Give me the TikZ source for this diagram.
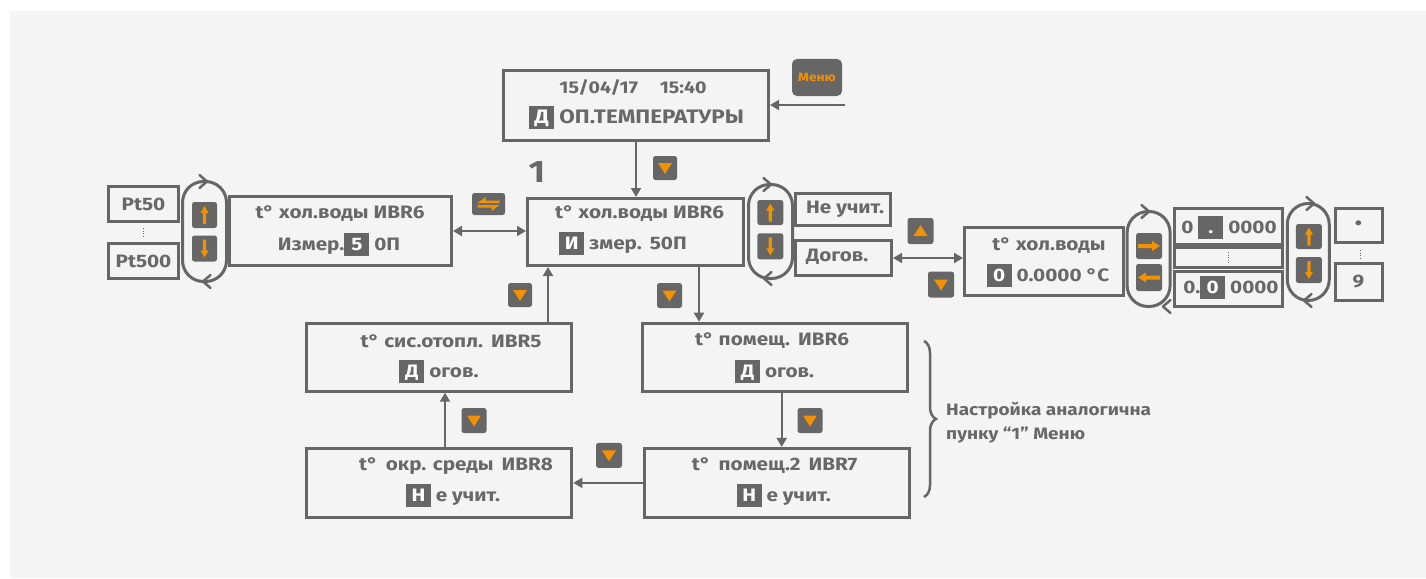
\documentclass[tikz,border=0pt]{standalone}
\usepackage{fontspec}
\setmainfont{Fira Sans}[FakeStretch=1.15]
\usetikzlibrary{arrows.meta,decorations.pathreplacing,calc}
\definecolor{gc}{HTML}{666666}
\definecolor{tc}{HTML}{686868}
\definecolor{og}{HTML}{F39200}
\definecolor{bgc}{HTML}{F4F4F4}
\newcommand\kb[1]{{\setlength\fboxsep{0pt}\colorbox{gc}{\makebox[25pt]{\rule[-5pt]{0pt}{23pt}\textcolor{white}{#1}}}}}
\newcommand\chevR[1]{\draw[chev] ($(#1)+(-3.5,-6.5)$) -- ++(7.5,6.5) -- ++(-7.5,6.5);}
\newcommand\chevL[1]{\draw[chev] ($(#1)+(3.5,-6.5)$) -- ++(-7.5,6.5) -- ++(7.5,6.5);}
\newcommand\tridown[1]{\fill[og] ($(#1)+(-7,-5)$) -- ++(14,0) -- ++(-7,11) -- cycle;}
\newcommand\triup[1]{\fill[og] ($(#1)+(-7,5)$) -- ++(14,0) -- ++(-7,-11) -- cycle;}
\newcommand\arrup[1]{\fill[og] ($(#1)+(-1.6,9)$) -- ++(3.2,0) -- ++(0,-11) -- ++(2.4,0) -- ++(-4,-7) -- ++(-4,7) -- ++(2.4,0) -- cycle;}
\newcommand\arrdown[1]{\fill[og] ($(#1)+(-1.6,-9)$) -- ++(3.2,0) -- ++(0,11) -- ++(2.4,0) -- ++(-4,7) -- ++(-4,-7) -- ++(2.4,0) -- cycle;}
\newcommand\arrright[1]{\fill[og] ($(#1)+(-11,-2)$) -- ++(14,0) -- ++(0,-3) -- ++(8,5) -- ++(-8,5) -- ++(0,-3) -- ++(-14,0) -- cycle;}
\newcommand\arrleft[1]{\fill[og] ($(#1)+(11,-2)$) -- ++(-14,0) -- ++(0,-3) -- ++(-8,5) -- ++(8,5) -- ++(0,-3) -- ++(14,0) -- cycle;}
\tikzset{
  lcd/.style={draw=gc, line width=3pt, fill=bgc, inner sep=0pt},
  capsule/.style={draw=gc, line width=3pt, inner sep=0pt, rounded corners=21pt},
  btn/.style={fill=gc, rounded corners=2.5pt, inner sep=0pt, minimum width=25pt, minimum height=25pt},
  txt/.style={text=tc, font=\bfseries\fontsize{18}{21}\selectfont, inner sep=0pt},
  stxt/.style={text=tc, font=\bfseries\fontsize{16.5}{24}\selectfont, inner sep=0pt},
  conn/.style={draw=gc, line width=2pt, -{Triangle[length=9pt,width=10pt]}},
  dconn/.style={draw=gc, line width=2pt, {Triangle[length=9pt,width=10pt]}-{Triangle[length=9pt,width=10pt]}},
  chev/.style={draw=gc, line width=2.5pt, line cap=round, line join=round},
  dots/.style={draw=gc, line width=1pt, dash pattern=on 1pt off 1.6pt},
}
\begin{document}
\begin{tikzpicture}[x=1pt,y=-1pt]
\fill[white] (0,0) rectangle (1426,578);
\fill[bgc] (10,11) rectangle (1426,578);
\useasboundingbox (0,0) rectangle (1426,578);

% ---------- boxes ----------
\node[lcd, minimum width=265pt, minimum height=70pt] (top) at (636,105.5) {};
\node[fill=gc, rounded corners=5pt, minimum width=50pt, minimum height=37pt, inner sep=0pt, text=og, font=\bfseries\fontsize{12}{13}\selectfont] (menu) at (817,77.5) {Меню};
\node[lcd, minimum width=216pt, minimum height=67pt] (main) at (635.5,232) {};
\node[lcd, minimum width=222pt, minimum height=69pt] (left) at (340.5,231) {};
\node[lcd, minimum width=70pt, minimum height=35pt] (pt50) at (143.5,204) {};
\node[lcd, minimum width=70pt, minimum height=35pt] (pt500) at (143.5,261) {};
\node[capsule, minimum width=44pt, minimum height=100pt] (capL) at (204.5,231.5) {};
\node[capsule, minimum width=44pt, minimum height=94pt] (capM) at (770.5,231.5) {};
\node[lcd, minimum width=95pt, minimum height=32pt] (neu) at (843,209.5) {};
\node[lcd, minimum width=96pt, minimum height=35pt] (dogov) at (843.5,258) {};
\node[lcd, minimum width=159pt, minimum height=68pt] (water2) at (1044,261.5) {};
\node[capsule, minimum width=43pt, minimum height=95pt] (capR1) at (1148.6,259) {};
\node[lcd, minimum width=108pt, minimum height=36pt] (dtop) at (1228.75,226.5) {};
\node[lcd, minimum width=108pt, minimum height=20pt] (dmid) at (1228.75,257.5) {};
\node[lcd, minimum width=108pt, minimum height=35pt] (dbot) at (1228.75,288.5) {};
\node[capsule, minimum width=42pt, minimum height=97pt] (capR2) at (1308.25,252) {};
\node[lcd, minimum width=47pt, minimum height=34pt] (dotbox) at (1358.5,225.5) {};
\node[lcd, minimum width=47pt, minimum height=37pt] (ninebox) at (1358.5,282) {};
\node[lcd, minimum width=265pt, minimum height=68pt] (heat) at (439.3,357.2) {};
\node[lcd, minimum width=265pt, minimum height=68pt] (room6) at (775.2,357.2) {};
\node[lcd, minimum width=265pt, minimum height=69pt] (outdoor) at (439.3,482.9) {};
\node[lcd, minimum width=265pt, minimum height=69pt] (room7) at (776.6,482.9) {};

% ---------- texts ----------
\node[txt, font=\bfseries\fontsize{17}{21}\selectfont] (t1) at (633,88) {15/04/17\hspace{22pt}15:40};
\node[txt, font=\bfseries\fontsize{19.5}{22}\selectfont] (t2) at (636.5,117) {\kb{Д} ОП.ТЕМПЕРАТУРЫ};
\node[txt, font=\bfseries\fontsize{31}{34}\selectfont] (one) at (537,172) {1};
\node[txt] (m1) at (639.5,214) {t° хол.воды ИВR6};
\node[txt] (m2) at (623,243) {\kb{И} змер.\hspace{8pt}50П};
\node[txt] (l1) at (340,214) {t° хол.воды ИВR6};
\node[txt] (l2) at (339,244) {Измер.\kb{5} 0П};
\node[txt] (p50) at (143.5,204) {Pt50};
\node[txt] (p500) at (143.5,261) {Pt500};
\node[txt, anchor=west] (nt) at (806,209) {Не учит.};
\node[txt, anchor=west] (dt) at (806,257) {Догов.};
\node[txt] (w1) at (1049,246) {t° хол.воды};
\node[txt] (w2) at (1048,275) {\kb{0} 0.0000 °C};
\node[txt] (d1) at (1229,227) {0 \kb{.} 0000};
\node[txt] (d2) at (1231,287) {0.\kb{0} 0000};
\node[txt] (dt1) at (1358.5,225) {•};
\node[txt] (dt9) at (1358.5,282) {9};
\node[txt] (h1) at (451,341) {t° сис.отопл.\hspace{8pt}ИВR5};
\node[txt] (h2) at (439,371) {\kb{Д} огов.};
\node[txt] (r61) at (772,341) {t° помещ.\hspace{8pt}ИВR6};
\node[txt] (r62) at (774.6,371) {\kb{Д} огов.};
\node[txt] (o1) at (456,466) {t°\hspace{8pt}окр. среды\hspace{8pt}ИВR8};
\node[txt] (o2) at (453,495) {\kb{Н} е учит.};
\node[txt] (r71) at (774.6,466) {t°\hspace{8pt}помещ.2\hspace{8pt}ИВR7};
\node[txt] (r72) at (783.7,495) {\kb{Н} е учит.};
\node[stxt, anchor=west, align=left] (note) at (946,423) {Настройка аналогична\\пунку “1” Меню};

% ---------- dotted separators ----------
\draw[dots] (143,228) -- (143,238);
\draw[dots] (1228.5,252) -- (1228.5,263);
\draw[dots] (1360,250) -- (1360,259);

% ---------- buttons ----------
\node[btn, minimum width=24pt, minimum height=24pt] (b1) at (665,168) {};
\node[btn, minimum width=33pt, minimum height=22pt] (sw) at (488.5,204) {};
\node[btn, minimum width=25pt, minimum height=26pt] (lu) at (204.5,215) {};
\node[btn, minimum width=25pt, minimum height=26pt] (ld) at (204.5,248.5) {};
\node[btn, minimum width=26pt, minimum height=25pt] (mu) at (770.3,212.5) {};
\node[btn, minimum width=26pt, minimum height=26pt] (md) at (770.3,246.3) {};
\node[btn, minimum width=26pt, minimum height=26pt] (gu) at (920.5,231) {};
\node[btn, minimum width=26pt, minimum height=26pt] (gd) at (941,284.5) {};
\node[btn, minimum width=26pt, minimum height=26pt] (rr) at (1149,246) {};
\node[btn, minimum width=26pt, minimum height=27pt] (rl) at (1149,277.5) {};
\node[btn, minimum width=26pt, minimum height=25pt] (su) at (1308.9,236.5) {};
\node[btn, minimum width=26pt, minimum height=26pt] (sd) at (1308.9,270) {};
\node[btn, minimum width=24pt, minimum height=24pt] (b2) at (520,295) {};
\node[btn, minimum width=25pt, minimum height=25pt] (b3) at (669.5,295.5) {};
\node[btn, minimum width=25pt, minimum height=25pt] (b4) at (474,420.5) {};
\node[btn, minimum width=25pt, minimum height=25pt] (b5) at (810,420.5) {};
\node[btn, minimum width=26pt, minimum height=25pt] (b6) at (609,455.4) {};

\tridown{b1}\tridown{b2}\tridown{b3}\tridown{b4}\tridown{b5}\tridown{b6}\tridown{gd}
\triup{gu}
\arrup{lu}\arrdown{ld}\arrup{mu}\arrdown{md}\arrup{su}\arrdown{sd}
\arrright{rr}\arrleft{rl}
% swap symbol (left harpoon over right harpoon)
\fill[og] ($(sw)+(11,-1)$) -- ++(-22,0) -- ++(8,-6) -- ++(0,3.5) -- ++(14,0) -- cycle;
\fill[og] ($(sw)+(-11,1)$) -- ++(22,0) -- ++(-8,6) -- ++(0,-3.5) -- ++(-14,0) -- cycle;

% ---------- capsule chevrons ----------
\chevR{203,181.5}\chevL{207,281.5}
\chevR{767,184.5}\chevL{768,278.5}
\chevR{1145,211.5}\chevL{1167,306.5}
\chevR{1310,203.5}\chevL{1308,300.5}

% ---------- connectors ----------
\coordinate (menuin) at (845,105);
\draw[conn] (menuin) -- (top.east |- menuin);
\draw[conn] (top.south) -- (top.south |- main.north);
\draw[dconn] (left.east) -- (left.east -| main.west);
\coordinate (cx1) at (699,0);
\draw[conn] (main.south -| cx1) -- (room6.north -| cx1);
\coordinate (cx2) at (548,0);
\draw[conn] (heat.north -| cx2) -- (main.south -| cx2);
\coordinate (cx3) at (445,0);
\draw[conn] (outdoor.north -| cx3) -- (heat.south -| cx3);
\coordinate (cx4) at (781.7,0);
\draw[conn] (room6.south -| cx4) -- (room7.north -| cx4);
\draw[conn] (room7.west) -- (room7.west -| outdoor.east);
\coordinate (cy5) at (0,258);
\draw[dconn] (dogov.east |- cy5) -- (water2.west |- cy5);

% ---------- brace ----------
\draw[gc, line width=2.5pt, decorate, decoration={brace, amplitude=12pt}] (924,341) -- (924,497);
\end{tikzpicture}
\end{document}
